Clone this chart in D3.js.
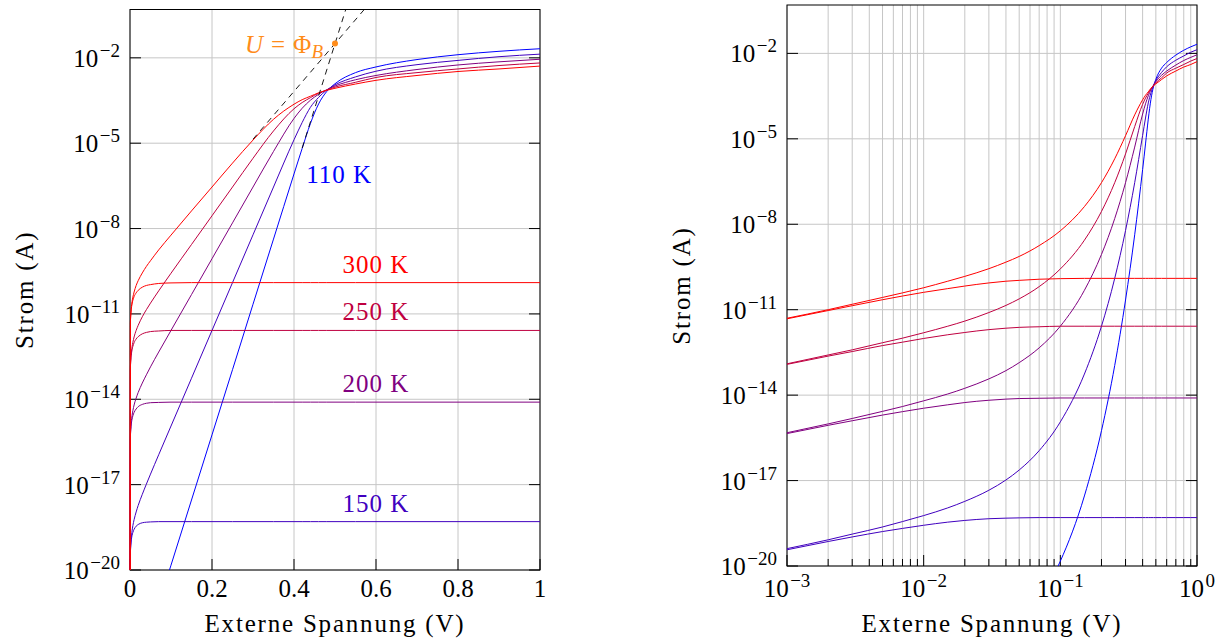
<!DOCTYPE html>
<html>
<head>
<meta charset="utf-8">
<script src="https://cdn.jsdelivr.net/npm/d3@7/dist/d3.min.js"></script>
<style>
  body { margin: 0; background: #fff; }
  svg { display: block; }
</style>
</head>
<body>
<svg id="chart" width="1223" height="643" font-family="Liberation Serif, DejaVu Serif, serif"></svg>
<script>
// bias voltage (V), shared by every curve
var voltages = [0, 0.001, 0.002, 0.003, 0.005, 0.007, 0.01, 0.015, 0.02, 0.03, 0.04, 0.05, 0.07, 0.1,
  0.15, 0.2, 0.25, 0.3, 0.35, 0.4, 0.42, 0.44, 0.46, 0.48, 0.5, 0.55, 0.6, 0.7, 0.8, 0.9, 1.0];

var temperatures = [110, 150, 200, 250, 300];

// log10 of the current (A); -Infinity = no current at 0 V
var fwd110 = [-Infinity, -25.36, -25.04, -24.84, -24.57, -24.37, -24.14, -23.82, -23.55, -23.05, -22.58, -22.12, -21.20, -19.83,
  -17.54, -15.25, -12.96, -10.66, -8.37, -6.08, -5.18, -4.31, -3.62, -3.18, -2.91, -2.52, -2.32, -2.06, -1.89, -1.77, -1.68];
var sat110 = [-Infinity, -25.41, -25.13, -24.98, -24.80, -24.69, -24.60, -24.51, -24.47, -24.43, -24.42, -24.41, -24.41, -24.41,
  -24.41, -24.41, -24.41, -24.41, -24.41, -24.41, -24.41, -24.41, -24.41, -24.41, -24.41, -24.41, -24.41, -24.41, -24.41, -24.41, -24.41];

var fwd150 = [-Infinity, -19.39, -19.08, -18.88, -18.63, -18.44, -18.23, -17.96, -17.73, -17.34, -16.98, -16.63, -15.95, -14.94,
  -13.26, -11.58, -9.90, -8.22, -6.54, -4.88, -4.27, -3.74, -3.39, -3.13, -2.95, -2.67, -2.47, -2.24, -2.09, -1.96, -1.87];
var sat150 = [-Infinity, -19.43, -19.14, -18.98, -18.79, -18.68, -18.57, -18.46, -18.40, -18.34, -18.32, -18.31, -18.30, -18.30,
  -18.30, -18.30, -18.30, -18.30, -18.30, -18.30, -18.30, -18.30, -18.30, -18.30, -18.30, -18.30, -18.30, -18.30, -18.30, -18.30, -18.30];

var fwd200 = [-Infinity, -15.32, -15.01, -14.82, -14.57, -14.40, -14.20, -13.96, -13.76, -13.43, -13.14, -12.86, -12.34, -11.58,
  -10.32, -9.06, -7.80, -6.54, -5.29, -4.13, -3.77, -3.49, -3.28, -3.12, -2.99, -2.77, -2.62, -2.41, -2.25, -2.14, -2.05];
var sat200 = [-Infinity, -15.35, -15.06, -14.90, -14.70, -14.58, -14.46, -14.34, -14.26, -14.18, -14.14, -14.12, -14.11, -14.10,
  -14.10, -14.10, -14.10, -14.10, -14.10, -14.10, -14.10, -14.10, -14.10, -14.10, -14.10, -14.10, -14.10, -14.10, -14.10, -14.10, -14.10];

var fwd250 = [-Infinity, -12.90, -12.59, -12.41, -12.16, -12.00, -11.81, -11.58, -11.40, -11.10, -10.85, -10.62, -10.19, -9.57,
  -8.56, -7.55, -6.54, -5.53, -4.57, -3.79, -3.57, -3.40, -3.24, -3.13, -3.03, -2.86, -2.69, -2.52, -2.39, -2.27, -2.18];
var sat250 = [-Infinity, -12.92, -12.63, -12.47, -12.26, -12.14, -12.01, -11.88, -11.80, -11.70, -11.65, -11.62, -11.60, -11.58,
  -11.58, -11.58, -11.58, -11.58, -11.58, -11.58, -11.58, -11.58, -11.58, -11.58, -11.58, -11.58, -11.58, -11.58, -11.58, -11.58, -11.58];

var fwd300 = [-Infinity, -11.30, -11.00, -10.81, -10.57, -10.41, -10.23, -10.00, -9.83, -9.56, -9.33, -9.13, -8.75, -8.23,
  -7.38, -6.54, -5.70, -4.89, -4.16, -3.63, -3.47, -3.35, -3.23, -3.14, -3.07, -2.92, -2.79, -2.62, -2.48, -2.39, -2.29];
var sat300 = [-Infinity, -11.32, -11.03, -10.86, -10.65, -10.52, -10.39, -10.26, -10.17, -10.06, -10.00, -9.97, -9.93, -9.91,
  -9.90, -9.90, -9.90, -9.90, -9.90, -9.90, -9.90, -9.90, -9.90, -9.90, -9.90, -9.90, -9.90, -9.90, -9.90, -9.90, -9.90];

// ideal exponential asymptotes (dashed), [V, log10 I]
var tangent110 = [[0.42, -5.17], [0.54, 0.33]];
var tangent300 = [[0.30, -4.86], [0.60, 0.18]];

// barrier height marker
var phiB = 0.5, phiCurrent = -1.5;

var yExponents = [-20, -17, -14, -11, -8, -5, -2];
var linTicks = [0, 0.2, 0.4, 0.6, 0.8, 1];
var linTickLabels = ["0", "0.2", "0.4", "0.6", "0.8", "1"];
var logTicks = [-3, -2, -1, 0];

var colors = {110: "#0000ff", 150: "#4000bf", 200: "#800080", 250: "#bf0040", 300: "#ff0000"};
var curves = {110: [fwd110, sat110], 150: [fwd150, sat150], 200: [fwd200, sat200], 250: [fwd250, sat250], 300: [fwd300, sat300]};

var FONT = "'Liberation Serif', 'DejaVu Serif', serif";
var svg = d3.select("#chart");
svg.append("rect").attr("width", 1223).attr("height", 643).attr("fill", "#fff");

function txt(parent) {
  return parent.append("text").attr("font-family", FONT).attr("font-size", 25);
}

function pow10Label(sel, e) {
  sel.append("tspan").text("10");
  sel.append("tspan").attr("dy", -10).attr("dx", 1.5).attr("font-size", 19)
    .text(e < 0 ? "\u2212" + (-e) : String(e));
}

function drawPanel(opt) {
  var w = opt.width, h = opt.height;
  var g = svg.append("g").attr("transform", "translate(" + opt.left + "," + opt.top + ")");

  var x = opt.logX
    ? d3.scaleLog().domain([1e-3, 1]).range([0, w])
    : d3.scaleLinear().domain([0, 1]).range([0, w]);
  var y = d3.scaleLog().domain([1e-20, 0.5]).range([h, 0]);
  var yv = function(l) { return y(Math.pow(10, Math.max(l, -30))); };

  // grid
  var grid = g.append("g").attr("stroke", "#c6c6c6").attr("stroke-width", 1);
  yExponents.forEach(function(e) {
    grid.append("line").attr("x1", 0).attr("x2", w).attr("y1", yv(e)).attr("y2", yv(e));
  });
  var xMajor = opt.logX ? logTicks.map(function(e) { return Math.pow(10, e); }) : linTicks;
  var xMinor = [];
  if (opt.logX) {
    [-3, -2, -1].forEach(function(e) {
      d3.range(2, 10).forEach(function(k) { xMinor.push(k * Math.pow(10, e)); });
    });
  }
  xMajor.concat(xMinor).forEach(function(v) {
    grid.append("line").attr("x1", x(v)).attr("x2", x(v)).attr("y1", 0).attr("y2", h);
  });

  // frame
  g.append("rect").attr("width", w).attr("height", h)
    .attr("fill", "none").attr("stroke", "#000").attr("stroke-width", 1);

  // ticks
  var ticks = g.append("g").attr("stroke", "#000").attr("stroke-width", 1);
  yExponents.forEach(function(e) {
    ticks.append("line").attr("x1", 0).attr("x2", 11).attr("y1", yv(e)).attr("y2", yv(e));
    ticks.append("line").attr("x1", w).attr("x2", w - 11).attr("y1", yv(e)).attr("y2", yv(e));
  });
  xMajor.forEach(function(v) {
    ticks.append("line").attr("x1", x(v)).attr("x2", x(v)).attr("y1", h).attr("y2", h - 11);
  });
  xMinor.forEach(function(v) {
    ticks.append("line").attr("x1", x(v)).attr("x2", x(v)).attr("y1", h).attr("y2", h - 7);
  });

  // curves
  var clipId = "clip" + opt.name;
  g.append("clipPath").attr("id", clipId)
    .append("rect").attr("x", -1).attr("y", 0).attr("width", w + 2).attr("height", h);
  var plot = g.append("g").attr("clip-path", "url(#" + clipId + ")");

  var line = d3.line()
    .x(function(d) { return x(d[0]); })
    .y(function(d) { return yv(d[1]); })
    .curve(d3.curveMonotoneX);

  temperatures.forEach(function(T) {
    curves[T].forEach(function(vals) {
      var pts = voltages.map(function(v, i) { return [v, vals[i]]; })
        .filter(function(d) { return !opt.logX || d[0] > 0; });
      plot.append("path").attr("d", line(pts))
        .attr("fill", "none").attr("stroke", colors[T]).attr("stroke-width", 1);
    });
  });

  if (!opt.logX) {
    [tangent110, tangent300].forEach(function(t) {
      plot.append("path").attr("d", d3.line().x(function(d) { return x(d[0]); }).y(function(d) { return yv(d[1]); })(t))
        .attr("fill", "none").attr("stroke", "#000").attr("stroke-width", 0.9)
        .attr("stroke-dasharray", "6,5");
    });

    // temperature labels
    [150, 200, 250, 300].forEach(function(T) {
      var sat = curves[T][1];
      txt(g).attr("x", x(0.6)).attr("y", yv(sat[sat.length - 1]) - 10)
        .attr("text-anchor", "middle").attr("letter-spacing", 1).attr("fill", colors[T])
        .text(T + " K");
    });
    txt(g).attr("x", x(0.43)).attr("y", yv(-6.4)).attr("letter-spacing", 1)
      .attr("fill", colors[110]).text("110 K");

    // U = Phi_B marker
    var ox = x(phiB), oy = yv(phiCurrent);
    g.append("circle").attr("cx", ox).attr("cy", oy).attr("r", 3).attr("fill", "#ff8c1a");
    var lab = txt(g).attr("x", ox - 12).attr("y", oy + 9)
      .attr("text-anchor", "end").attr("fill", "#ff8c1a");
    lab.append("tspan").attr("font-style", "italic").text("U");
    lab.append("tspan").attr("dx", 8).text("=");
    lab.append("tspan").attr("dx", 8).text("\u03A6");
    lab.append("tspan").attr("font-style", "italic").attr("font-size", 19).attr("dy", 5).text("B");
  }

  // tick labels
  yExponents.forEach(function(e) {
    var t = txt(g).attr("x", -10).attr("y", yv(e) + 9).attr("text-anchor", "end");
    pow10Label(t, e);
  });
  if (opt.logX) {
    logTicks.forEach(function(e) {
      var t = txt(g).attr("x", x(Math.pow(10, e))).attr("y", h + 31).attr("text-anchor", "middle");
      pow10Label(t, e);
    });
  } else {
    linTicks.forEach(function(v, i) {
      txt(g).attr("x", x(v)).attr("y", h + 27)
        .attr("text-anchor", "middle").text(linTickLabels[i]);
    });
  }

  // axis titles
  txt(g).attr("x", w / 2).attr("y", 632 - opt.top)
    .attr("text-anchor", "middle").attr("letter-spacing", 1.8)
    .text("Externe Spannung (V)");
  txt(g)
    .attr("transform", "translate(" + (opt.titleX - opt.left) + "," + (h / 2) + ") rotate(-90)")
    .attr("text-anchor", "middle").attr("letter-spacing", 1.8)
    .text("Strom (A)");
}

drawPanel({name: "lin", left: 130, top: 9.5, width: 410, height: 560.5, logX: false, titleX: 33});
drawPanel({name: "log", left: 787, top: 5, width: 410, height: 561, logX: true, titleX: 690});
</script>
</body>
</html>
